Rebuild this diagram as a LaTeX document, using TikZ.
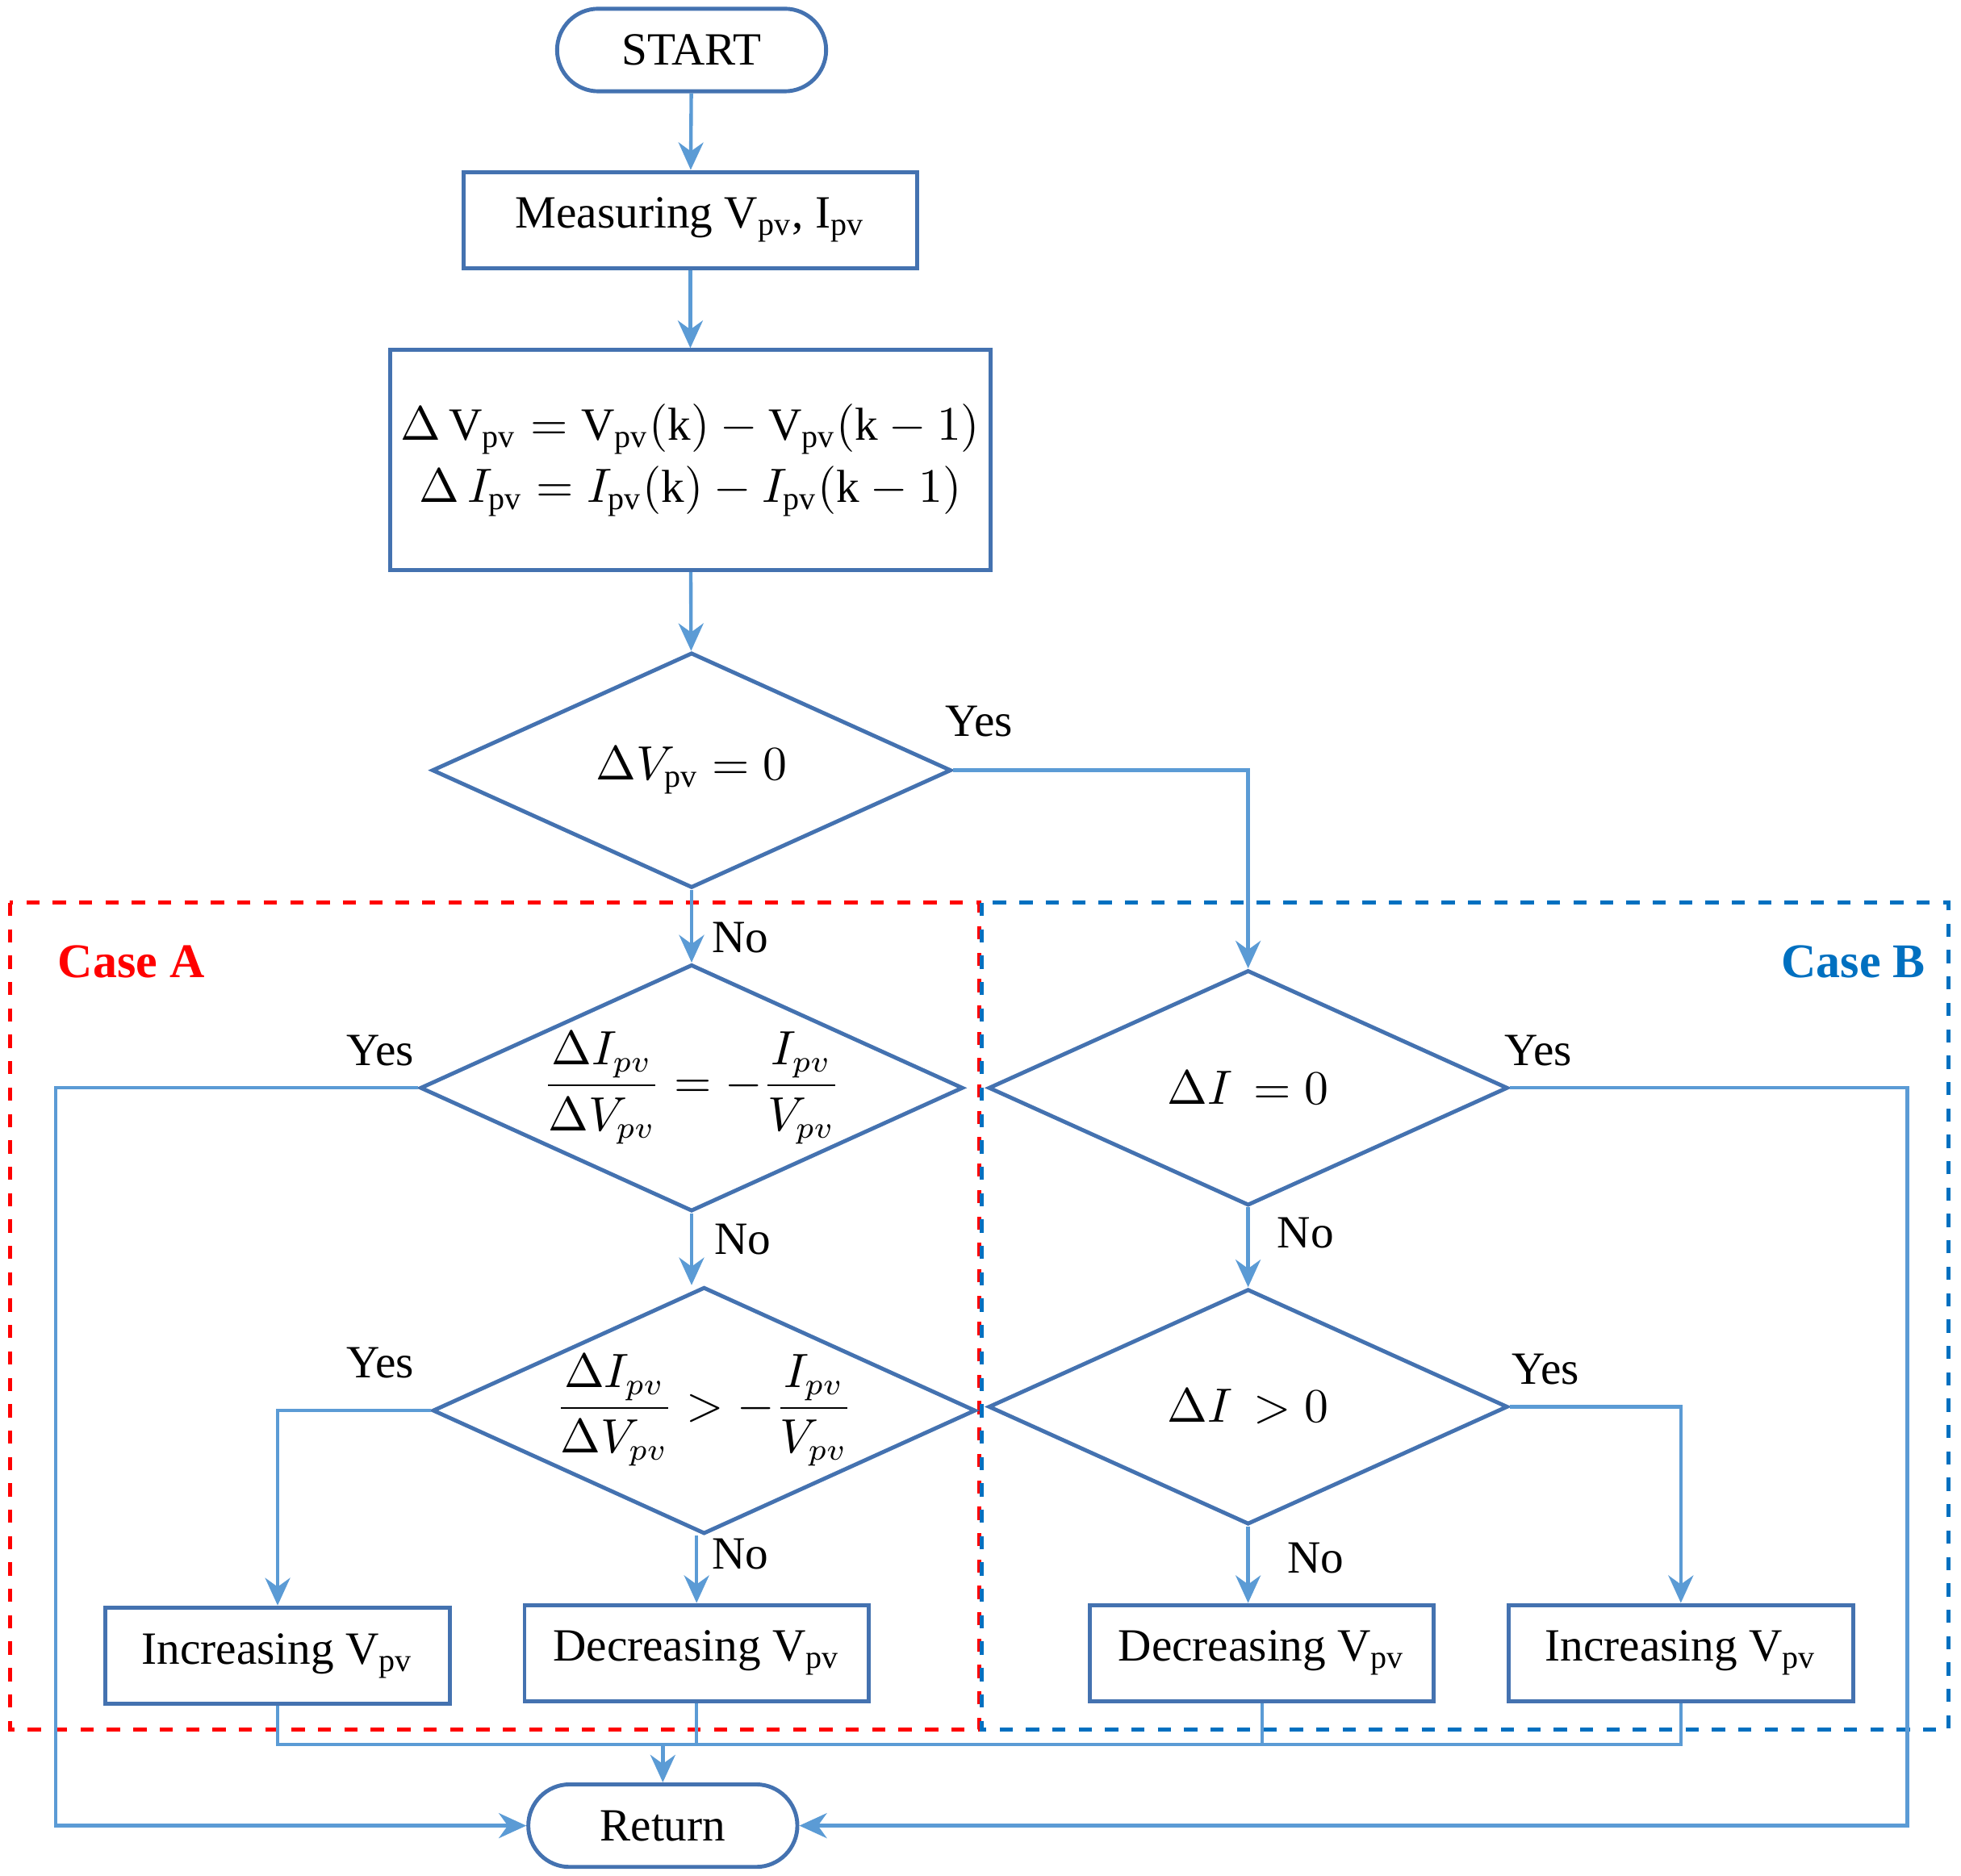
\documentclass[tikz,border=0pt]{standalone}
\usepackage{fontspec}
\setmainfont{Liberation Serif}
\usepackage{amsmath}
\usetikzlibrary{positioning,shapes.geometric,arrows.meta}
\definecolor{lineblue}{RGB}{91,155,213}
\definecolor{boxblue}{RGB}{68,114,176}
\definecolor{caseblue}{RGB}{0,112,192}
\tikzset{
  txt/.style={font=\fontsize{10.5}{12}\selectfont},
  blk/.style={txt,draw=boxblue,line width=0.9pt,inner sep=0pt},
  dec/.style={blk,diamond,aspect=2.2,minimum width=4.15cm,minimum height=1.88cm},
  term/.style={blk,rounded corners=0.33cm,minimum width=2.15cm,minimum height=0.66cm},
  conn/.style={draw=lineblue,line width=0.8pt},
  arr/.style={conn,-{Stealth[length=2.2mm,width=2mm]}},
  lbl/.style={txt}
}
\begin{document}
\begin{tikzpicture}[x=0.01cm,y=-0.01cm]
    \useasboundingbox (0,0) rectangle (1568,1500);
    % Case frames
    \draw[red,dashed,line width=0.9pt] (8,722) rectangle (783,1383);
    \draw[caseblue,dashed,line width=0.9pt] (785,722) rectangle (1558,1383);
    \node[txt,red,font=\fontsize{11}{13}\selectfont\bfseries] at (105,769) {Case A};
    \node[txt,caseblue,font=\fontsize{11}{13}\selectfont\bfseries] at (1482,769) {Case B};

    % Blocks
    \node[term] (start) at (553,40) {START};
    \node[blk,minimum width=3.62cm,minimum height=0.77cm] (meas) at (552,176) {Measuring V$_{\mathrm{pv}}$, I$_{\mathrm{pv}}$};
    \node[blk,minimum width=4.8cm,minimum height=1.76cm,align=center] (delta) at (552,368)
      {$\Delta\,\mathrm{V}_{\mathrm{pv}}=\mathrm{V}_{\mathrm{pv}}(\mathrm{k})-\mathrm{V}_{\mathrm{pv}}(\mathrm{k}-1)$\\[2pt]
       $\Delta\,I_{\mathrm{pv}}=I_{\mathrm{pv}}(\mathrm{k})-I_{\mathrm{pv}}(\mathrm{k}-1)$};
    \node[dec] (dv) at (553,616) {$\Delta V_{\mathrm{pv}}=0$};
    \node[dec] (eq) at (553,870) {$\dfrac{\Delta I_{pv}}{\Delta V_{pv}}=-\dfrac{I_{pv}}{V_{pv}}$};
    \node[dec] (gt) at (563,1128) {$\dfrac{\Delta I_{pv}}{\Delta V_{pv}}>-\dfrac{I_{pv}}{V_{pv}}$};
    \node[dec] (di) at (998,870) {$\Delta I\,=0$};
    \node[dec] (dg) at (998,1125) {$\Delta I\,>0$};
    \node[blk,minimum width=2.75cm,minimum height=0.77cm] (incA) at (222,1324) {Increasing V$_{\mathrm{pv}}$};
    \node[blk,minimum width=2.75cm,minimum height=0.77cm] (decA) at (557,1322) {Decreasing V$_{\mathrm{pv}}$};
    \node[blk,minimum width=2.75cm,minimum height=0.77cm] (decB) at (1009,1322) {Decreasing V$_{\mathrm{pv}}$};
    \node[blk,minimum width=2.75cm,minimum height=0.77cm] (incB) at (1344,1322) {Increasing V$_{\mathrm{pv}}$};
    \node[term] (ret) at (530,1460) {Return};

    % Connectors
    \draw[arr] (start) -- (meas);
    \draw[arr] (meas) -- (delta);
    \draw[arr] (delta) -- (dv);
    \draw[arr] (dv) -- (eq);
    \draw[arr] (eq) -- (eq.south |- gt.north);
    \draw[arr] (gt.south -| decA) -- (decA);
    \draw[arr] (gt.west) -| (incA);
    \draw[arr] (dv.east) -| (di);
    \draw[arr] (di) -- (dg);
    \draw[arr] (dg.south) -- (dg.south |- decB.north);
    \draw[arr] (dg.east) -| (incB);
    \draw[arr] (eq.west) -- ++(-290,0) |- (ret.west);
    \draw[arr] (di.east) -- ++(318,0) |- (ret.east);
    \coordinate (merge) at (530,1395);
    \draw[conn] (incA.south) -- (incA.south |- merge) -- (incB.south |- merge) -- (incB.south);
    \draw[conn] (decA.south) -- (decA.south |- merge);
    \draw[conn] (decB.south) -- (decB.south |- merge);
    \draw[arr] (merge) -- (ret);

    % Labels
    \node[lbl] at (783,577) {Yes};
    \node[lbl] at (592,750) {No};
    \node[lbl] at (304,840) {Yes};
    \node[lbl] at (594,991) {No};
    \node[lbl] at (304,1090) {Yes};
    \node[lbl] at (592,1243) {No};
    \node[lbl] at (1230,840) {Yes};
    \node[lbl] at (1044,986) {No};
    \node[lbl] at (1236,1095) {Yes};
    \node[lbl] at (1052,1246) {No};
\end{tikzpicture}
\end{document}
